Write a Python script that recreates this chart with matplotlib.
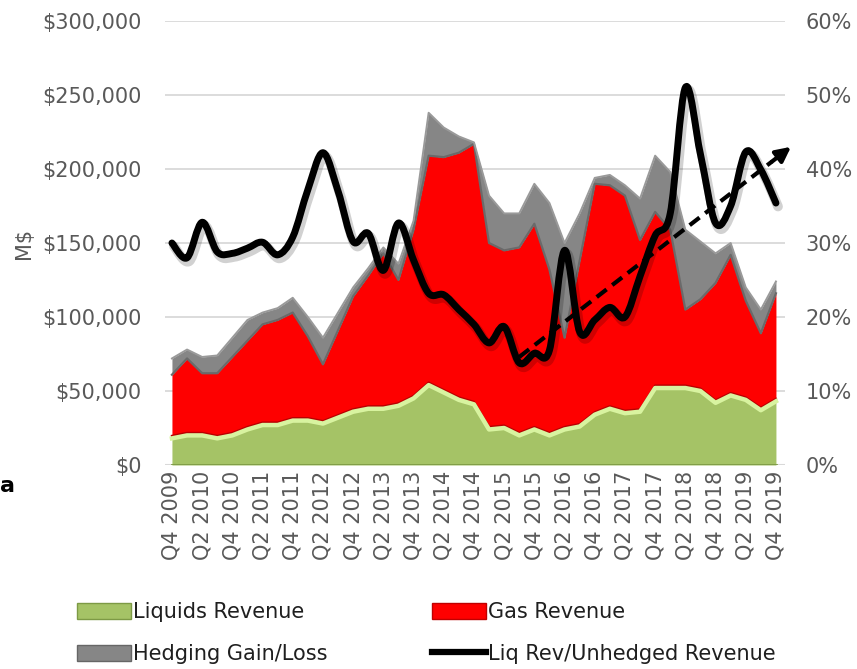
import numpy as np
import matplotlib
matplotlib.use("Agg")
import matplotlib.pyplot as plt
import matplotlib.patheffects as pe
from matplotlib import transforms
from matplotlib.path import Path
from matplotlib.patches import PathPatch, Patch
from matplotlib.lines import Line2D
from matplotlib.ticker import FuncFormatter, MultipleLocator

# Quarterly revenue, Q4 2009 .. Q4 2019 (M$)
liquids = [18000, 20000, 20000, 18000, 20000, 24000, 27000, 27000, 30000, 30000,
           28000, 32000, 36000, 38000, 38000, 40000, 45000, 54000, 49000, 44000,
           41000, 24000, 25000, 20000, 24000, 20000, 24000, 26000, 34000, 38000,
           35000, 36000, 52000, 52000, 52000, 50000, 42000, 47000, 44000, 37000,
           43000]
gas = [43000, 52000, 42000, 44000, 53000, 60000, 68000, 71000, 73000, 57000,
       40000, 59000, 78000, 90000, 105000, 85000, 114000, 155000, 159000, 167000,
       176000, 126000, 120000, 127000, 139000, 112000, 62000, 112000, 156000, 151000,
       147000, 116000, 119000, 107000, 53000, 62000, 81000, 95000, 67000, 52000,
       73000]
hedging = [11000, 6000, 11000, 12000, 13000, 14000, 8000, 8000, 10000, 13000,
           18000, 12000, 6000, 5000, 4000, 11000, 6000, 29000, 20000, 11000,
           1000, 32000, 25000, 23000, 27000, 45000, 64000, 32000, 4000, 7000,
           7000, 28000, 38000, 39000, 54000, 39000, 20000, 8000, 9000, 16000,
           8000]
# Liquids revenue / unhedged revenue (%)
liq_share = [30.0, 28.0, 32.8, 28.8, 28.6, 29.3, 30.1, 28.4, 30.8, 37.2,
             42.2, 37.0, 30.2, 31.3, 26.3, 32.7, 27.7, 23.2, 23.0, 21.0,
             19.0, 16.5, 18.7, 13.8, 15.1, 15.5, 29.0, 18.0, 19.6, 21.3,
             20.0, 25.5, 31.0, 34.0, 51.0, 42.0, 32.7, 35.0, 42.3, 39.9,
             35.4]
# trend arrow: (quarter index, %)
trend_x = [23, 41]
trend_y = [14.6, 43.0]

tick_labels = ["Q4 2009", "Q2 2010", "Q4 2010", "Q2 2011", "Q4 2011", "Q2 2012",
               "Q4 2012", "Q2 2013", "Q4 2013", "Q2 2014", "Q4 2014", "Q2 2015",
               "Q4 2015", "Q2 2016", "Q4 2016", "Q2 2017", "Q4 2017", "Q2 2018",
               "Q4 2018", "Q2 2019", "Q4 2019"]

TXT = "#595959"
FS = 15


def smooth_path(xs, ys):
    """Bezier path through the points, like a spreadsheet 'smoothed line'."""
    pts = np.column_stack([xs, ys]).astype(float)
    n = len(pts)
    verts = [pts[0]]
    codes = [Path.MOVETO]
    for k in range(n - 1):
        p0 = pts[k - 1] if k > 0 else pts[k]
        p1, p2 = pts[k], pts[k + 1]
        p3 = pts[k + 2] if k + 2 < n else pts[k + 1]
        verts += [p1 + (p2 - p0) / 6, p2 - (p3 - p1) / 6, p2]
        codes += [Path.CURVE4] * 3
    return Path(verts, codes)


x = np.arange(len(liquids))
liq = np.array(liquids)
red_top = liq + np.array(gas)
grey_top = red_top + np.array(hedging)

fig = plt.figure(figsize=(8.57, 6.69), dpi=100)
ax = fig.add_axes([165 / 857, 1 - 465 / 669, 620 / 857, 444 / 669])

ax.fill_between(x, 0, liq, color="#a5c366", lw=0, zorder=2)
ax.fill_between(x, liq, red_top, color="#fe0000", lw=0, zorder=2)
ax.fill_between(x, red_top, grey_top, color="#868686", lw=0, zorder=2)

# bevel-ish edges
up = transforms.offset_copy(ax.transData, fig=fig, x=0, y=2.5, units="dots")
ax.plot(x, liq, color="#b80000", lw=1.6, transform=up, zorder=3)
ax.plot(x, liq, color="#d8f3a0", lw=3.2, zorder=3, solid_joinstyle="round")
ax.plot(x, red_top, color="#6a6a6a", lw=1.6, zorder=3)
ax.plot(x, grey_top, color="#9a9a9a", lw=1.4, zorder=3)
ax.plot(x, [0] * len(x), color="#7d9a45", lw=2, zorder=3)

ax.set_xlim(-0.46, 40.6)
ax.set_ylim(0, 300000)
ax.yaxis.set_major_locator(MultipleLocator(50000))
ax.yaxis.set_major_formatter(FuncFormatter(lambda v, p: f"${v:,.0f}"))
ax.grid(axis="y", color="#d9d9d9", lw=1.3, zorder=0)
ax.set_axisbelow(True)
for s in ax.spines.values():
    s.set_visible(False)
ax.axhline(0, color="#d9d9d9", lw=1.5, zorder=1)
ax.set_xticks(x[::2])
ax.set_xticklabels(tick_labels, rotation=90, fontsize=FS, color=TXT)
ax.tick_params(axis="x", length=0, pad=4)
ax.tick_params(axis="y", length=0, pad=17, labelsize=FS, labelcolor=TXT)
ax.set_ylabel("M$", fontsize=FS, color=TXT, labelpad=6)

ax2 = ax.twinx()
ax2.set_ylim(0, 60)
ax2.yaxis.set_major_locator(MultipleLocator(10))
ax2.yaxis.set_major_formatter(FuncFormatter(lambda v, p: f"{v:.0f}%"))
ax2.tick_params(axis="y", length=0, pad=15, labelsize=FS, labelcolor=TXT)
for s in ax2.spines.values():
    s.set_visible(False)

line_path = smooth_path(x, liq_share)
ax2.add_patch(PathPatch(
    line_path, fill=False, edgecolor="black", lw=5, capstyle="round",
    joinstyle="round", zorder=5,
    path_effects=[pe.SimpleLineShadow(offset=(1.5, -2.5), shadow_color="black",
                                      alpha=0.18, linewidth=7),
                  pe.Normal()]))

# dashed trend with solid head
tx0, tx1 = trend_x
ty0, ty1 = trend_y
frac = 0.93
ax2.plot([tx0, tx0 + frac * (tx1 - tx0)], [ty0, ty0 + frac * (ty1 - ty0)],
         color="black", lw=3, ls=(0, (3, 1.7)), zorder=6, clip_on=False)
ax2.annotate("", xy=(tx1, ty1),
             xytext=(tx0 + frac * (tx1 - tx0), ty0 + frac * (ty1 - ty0)),
             arrowprops=dict(arrowstyle="-|>", color="black", lw=3,
                             mutation_scale=22, shrinkA=0, shrinkB=0),
             zorder=6, annotation_clip=False)

handles = [
    Patch(facecolor="#a5c366", edgecolor="#7d9a45", lw=1),
    Patch(facecolor="#868686", edgecolor="#666666", lw=1),
    Patch(facecolor="#fe0000", edgecolor="#c00000", lw=1),
    Line2D([0], [0], color="black", lw=4.5),
]
labels = ["Liquids Revenue", "Hedging Gain/Loss", "Gas Revenue",
          "Liq Rev/Unhedged Revenue"]
fig.legend(handles, labels, ncol=2, loc="center left",
           bbox_to_anchor=(58 / 857, 1 - 633 / 669), frameon=False,
           fontsize=FS, handlelength=2.6, handleheight=0.8, handletextpad=0.1,
           columnspacing=5.0, labelspacing=1.05, labelcolor="#1f1f1f")

fig.text(0, 1 - 486 / 669, "a", ha="left", va="center",
         fontsize=16, fontweight="bold", color="black")

fig.savefig("out.png", dpi=100)
